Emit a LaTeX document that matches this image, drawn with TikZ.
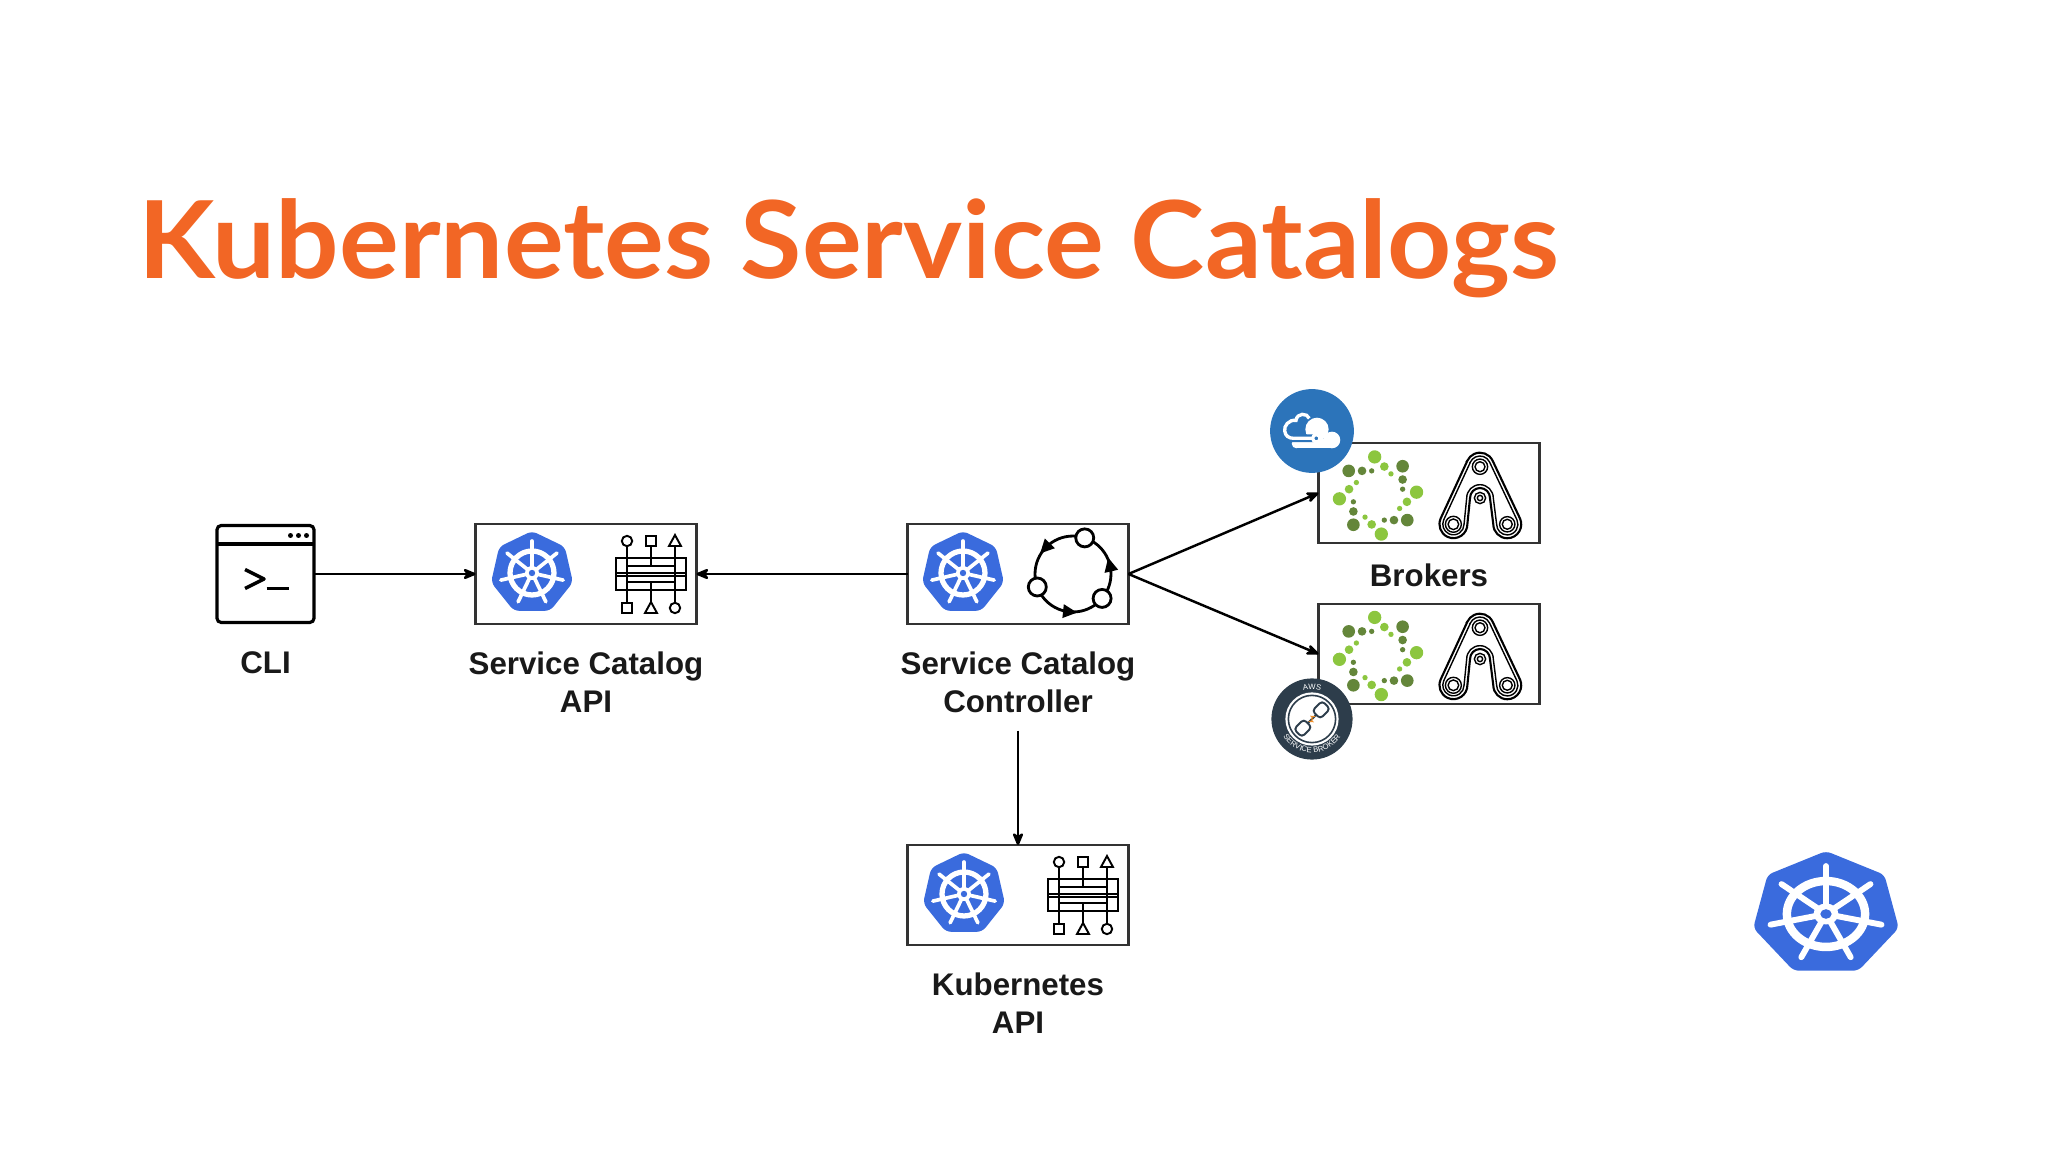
\documentclass[tikz,border=0pt]{standalone}
\usepackage{fontspec}
\setmainfont{Liberation Sans}
\newfontfamily\titlefont[FakeStretch=1.041]{Lato}
\usetikzlibrary{arrows.meta,positioning,decorations.text}
\definecolor{titleorange}{HTML}{F26625}
\definecolor{k8sblue}{HTML}{3A6BDD}
\definecolor{azureblue}{HTML}{2C74BA}
\definecolor{awsdark}{HTML}{2D3D4B}
\definecolor{sparklight}{HTML}{8CC63F}
\definecolor{sparkdark}{HTML}{64863A}
\definecolor{awsorange}{HTML}{F0902A}
\tikzset{
  pics/k8slogo/.style={code={
    \begin{scope}[scale=.01]
    \fill[k8sblue,rounded corners=1.5pt] (90:42) -- (141.43:42) -- (192.86:42) -- (244.29:42) -- (295.71:42) -- (347.14:42) -- (38.57:42) -- cycle;
    \draw[white,line width=#1pt] (0,0) circle (22);
    \foreach \a in {90,141.43,192.86,244.29,295.71,347.14,38.57}
      \draw[white,line width=.7*#1pt,line cap=round] (0,0) -- (\a:32);
    \fill[white] (0,0) circle (7);
    \fill[k8sblue] (0,0) circle (3.2);
    \end{scope}}},
  pics/k8slogo/.default=1.5,
  pics/schema/.style={code={
    \begin{scope}[scale=.01,line width=.55pt]
    \draw (-35,-16) rectangle (35,16);
    \draw (-23,8) -- (23,8) (-23,-8) -- (23,-8) (-35,1) -- (35,1) (-35,-2) -- (35,-2);
    \draw (-24,28) -- (-24,-29) (24,28) -- (24,-29) (0,28) -- (0,8) (0,-8) -- (0,-29);
    \draw[fill=white] (-24,33) circle (5.2);
    \draw[fill=white] (-5,28) rectangle (5,38);
    \draw[fill=white] (24,39) -- (30,28) -- (18,28) -- cycle;
    \draw[fill=white] (-29,-39) rectangle (-19,-29);
    \draw[fill=white] (0,-28) -- (6,-39) -- (-6,-39) -- cycle;
    \draw[fill=white] (24,-34) circle (5.2);
    \end{scope}}},
  pics/cycle/.style={code={
    \begin{scope}[scale=.01,line width=.8pt]
    \draw (0,0) circle (38);
    \foreach \a in {13,136,264}
      \fill[rotate=\a] (38,8) -- (45,-6) -- (31,-6) -- cycle;
    \foreach \a in {72,200,320}
      \draw[fill=white] (\a:38) circle (9);
    \end{scope}}},
  pics/spark/.style={code={
    \begin{scope}[scale=.00333]
    \foreach \a in {0,90,180,270} {
      \begin{scope}[rotate=\a]
      \fill[sparklight] (-10,116) circle (20) (19,87) circle (13) (39,65) circle (8);
      \fill[sparkdark] (74,88) circle (19) (74,48) circle (13) (74,19) circle (8);
      \end{scope}}
    \end{scope}}},
  pics/belts/.style={code={
    \begin{scope}[scale=.00333]
    \foreach \d/\w in {0/.6,10/.4}
      \draw[line width=\w pt] (-38+.908*\d,112-.42*\d) -- (-118+.908*\d,-61-.42*\d)
        arc[start angle=155,end angle=360,radius=42-\d] -- (-30-\d,0)
        arc[start angle=180,end angle=0,radius=30+\d] -- (40+\d,-79)
        arc[start angle=180,end angle=385,radius=42-\d] -- (38-.908*\d,112-.42*\d)
        arc[start angle=25,end angle=155,radius=42-\d] -- cycle;
    \foreach \x/\y/\r in {0/94/23,-80/-79/24,82/-79/23}
      \draw[line width=.4pt] (\x,\y) circle (\r) (\x,\y) circle (\r-8);
    \draw[line width=.4pt] (0,0) circle (17) (0,0) circle (8);
    \end{scope}}},
  pics/azurebadge/.style={code={
    \begin{scope}[scale=.00333]
    \fill[azureblue] (0,0) circle (126);
    \fill[white] (-45,-52) rectangle (60,-25);
    \fill[white] (15,5) circle (35);
    \fill[white] (60,-27) circle (25);
    \fill[white] (-47,-38) circle (14);
    \draw[azureblue,line width=2.2pt] (-8,38) .. controls (-15,55) and (-45,55) .. (-48,32) .. controls (-70,35) and (-85,15) .. (-82,0) .. controls (-80,-15) and (-70,-22) .. (-55,-22) -- (13,-22);
    \draw[white,line width=.95pt] (-8,38) .. controls (-15,55) and (-45,55) .. (-48,32) .. controls (-70,35) and (-85,15) .. (-82,0) .. controls (-80,-15) and (-70,-22) .. (-55,-22) -- (13,-22);
    \draw[white,fill=azureblue,line width=.9pt] (13,-22) circle (11);
    \end{scope}}},
  pics/awsbadge/.style={code={
    \begin{scope}[scale=.00333]
    \fill[awsdark] (0,0) circle (122);
    \fill[white] (0,0) circle (80);
    \draw[awsdark,line width=.45pt] (0,0) circle (71);
    \begin{scope}[rotate=45,line width=.55pt,awsdark]
    \draw[fill=white,rounded corners=1pt] (-60,-17) rectangle (-18,17);
    \draw[fill=white,rounded corners=1pt] (18,-17) rectangle (60,17);
    \draw (-18,0) -- (18,0);
    \end{scope}
    \fill[awsorange] (-12,-8) -- (6,-10) -- (-4,2) -- (12,8) -- (-6,10) -- (4,-2) -- cycle;
    \path[decorate,decoration={text along path,text align=center,
      text color=white,text={|\fontsize{2.2}{2.5}\selectfont|AWS}}]
      (120:90) arc[start angle=120,end angle=60,radius=90];
    \path[decorate,decoration={text along path,text align=center,
      text color=white,text={|\fontsize{2.2}{2.5}\selectfont|SERVICE BROKER}}]
      (205:101) arc[start angle=205,end angle=335,radius=101];
    \end{scope}}}
}

\begin{document}
\begin{tikzpicture}[auto,node distance=1cm,on grid,
iconbox/.style={draw=black!80,line width=.6pt,minimum width=2.21cm,minimum height=1cm,inner sep=0pt,outer sep=0pt},
cli/.style={draw=black,line width=.9pt,rounded corners=1.2pt,minimum width=.97cm,minimum height=.97cm,inner sep=0pt,outer sep=0pt},
caption/.style={font=\bfseries\fontsize{8.9}{10.8}\selectfont,align=center,text=black!90,inner sep=2pt},
link/.style={->,>={Stealth[round,length=4.6pt,width=3.8pt]},line width=.7pt}]
\useasboundingbox (0,0) rectangle (20.48,-11.52);

\node[anchor=base west,inner sep=0pt,text=titleorange,font=\titlefont\bfseries\fontsize{30.6}{36}\selectfont] (title) at (1.38,-2.79) {Kubernetes Service Catalogs};

\node[cli] (term) at (2.655,-5.74) {};
\node[iconbox] (svcapi)  [right=3.205cm of term]    {};
\node[iconbox] (ctrl)    [right=4.32cm of svcapi]   {};
\node[iconbox] (kubeapi) [below=3.21cm of ctrl]     {};
\node[iconbox] (brokera) at (14.29,-4.93)           {};
\node[iconbox] (brokerb) [below=1.61cm of brokera]  {};

\node[caption] (termlabel)   [below=.885cm of term]    {CLI};
\node[caption] (svclabel)    [below=1.085cm of svcapi]  {Service Catalog\\API};
\node[caption] (ctrllabel)   [below=1.085cm of ctrl]    {Service Catalog\\Controller};
\node[caption] (kubelabel)   [below=1.085cm of kubeapi] {Kubernetes\\API};
\node[caption] (brokerlabel) [below=.825cm of brokera] {Brokers};

\path (term)      edge[link] (svcapi)
      (ctrl)      edge[link] (svcapi)
      (ctrl.east) edge[link] (brokera.west)
      (ctrl.east) edge[link] (brokerb.west)
      (ctrllabel) edge[link,shorten <=2.8pt] (kubeapi);

% window icon
\draw[line width=.9pt] ([yshift=-.185cm]term.north west) -- ([yshift=-.185cm]term.north east);
\foreach \x in {.25,.33,.41}
  \fill ([xshift=\x cm,yshift=-.1cm]term.north) circle (.025);
\draw[line width=1pt,line join=round] ([xshift=-.205cm,yshift=.045cm]term.center) -- ([xshift=-.015cm,yshift=-.05cm]term.center) -- ([xshift=-.205cm,yshift=-.145cm]term.center);
\draw[line width=1pt] ([xshift=.01cm,yshift=-.145cm]term.center) -- ([xshift=.235cm,yshift=-.145cm]term.center);

\pic at ([xshift=-.54cm,yshift=.01cm]svcapi.center) {k8slogo};
\pic at ([xshift=.65cm]svcapi.center) {schema};
\pic at ([xshift=-.55cm,yshift=.01cm]ctrl.center) {k8slogo};
\pic at ([xshift=.55cm]ctrl.center) {cycle};
\pic at ([xshift=-.54cm,yshift=.01cm]kubeapi.center) {k8slogo};
\pic at ([xshift=.65cm]kubeapi.center) {schema};

\pic at ([xshift=-.51cm,yshift=-.025cm]brokera.center) {spark};
\pic at ([xshift=.51cm,yshift=-.05cm]brokera.center) {belts};
\pic at ([xshift=-.51cm,yshift=-.02cm]brokerb.center) {spark};
\pic at ([xshift=.51cm,yshift=-.05cm]brokerb.center) {belts};

\pic at (13.12,-4.31) {azurebadge};
\pic at (13.12,-7.19) {awsbadge};

\pic[xscale=1.78,yscale=1.5] at (18.26,-9.14) {k8slogo=2.4};
\end{tikzpicture}
\end{document}
